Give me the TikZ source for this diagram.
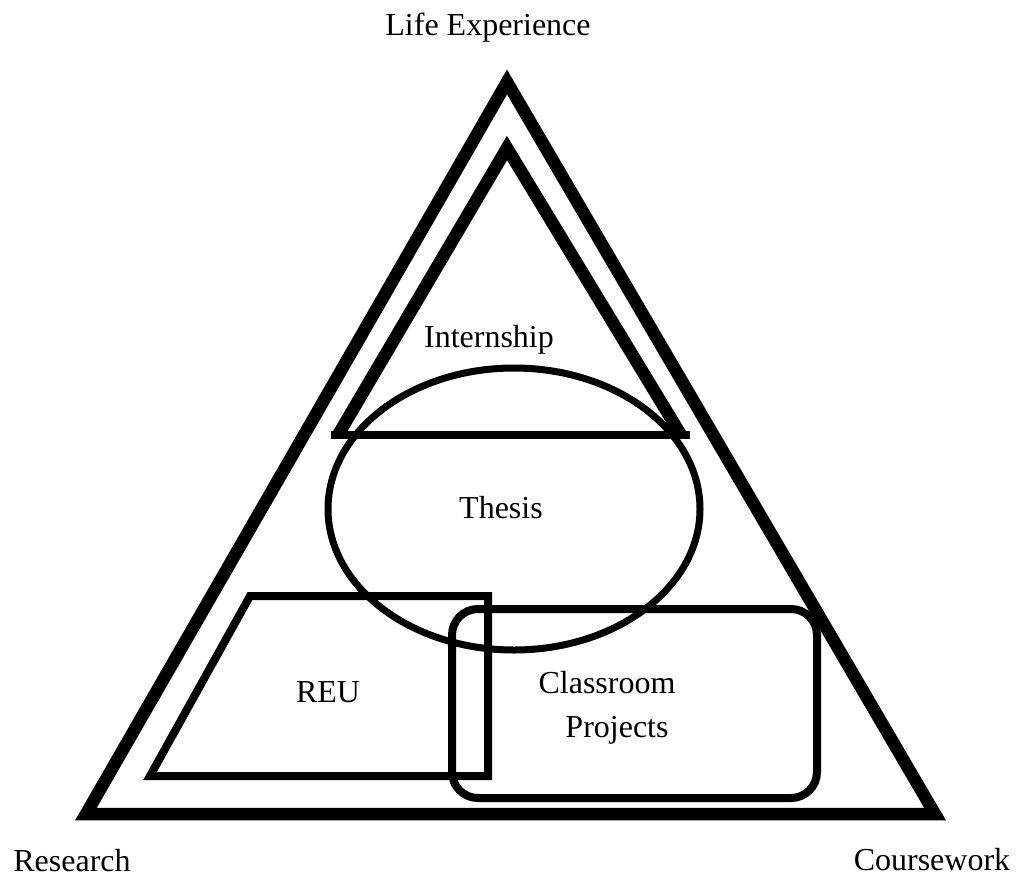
\documentclass[tikz,border=0pt]{standalone}
\usepackage{fontspec}
\setmainfont{Liberation Serif}
\begin{document}
\begin{tikzpicture}[x=1pt,y=-1pt,
  lbl/.style={font=\fontsize{32}{44}\selectfont, inner sep=0pt, anchor=base, align=center},
  heavy/.style={line width=12.5pt, line join=miter},
  medium/.style={line width=8pt, line join=miter},
  thin/.style={line width=7pt}]
\useasboundingbox (0,0) rectangle (1023,876);
% outer triangle
\draw[heavy] (507,82) -- (935,814) -- (86,814) -- cycle;
% inner triangle
\draw[heavy] (338,435) -- (507,148) -- (681,435);
\draw[medium] (331,435) -- (690,435);
% ellipse
\draw[thin] (514,509) ellipse [x radius=186, y radius=141];
% REU parallelogram
\draw[medium] (250,596) -- (488,596) -- (488,776) -- (150,776) -- cycle;
% Classroom projects rounded rectangle
\draw[medium, rounded corners=26pt] (452,609) rectangle (817,798);
% labels
\node[lbl] (life) at (488,35) {Life Experience};
\node[lbl] (intern) at (489,347) {Internship};
\node[lbl] (thesis) at (501,518) {Thesis};
\node[lbl] (reu) at (328,702) {REU};
\node[lbl] (class) at (607,693) {Classroom};
\node[lbl] (proj) at (617,737) {Projects};
\node[lbl] (research) at (72,871) {Research};
\node[lbl] (course) at (932,870) {Coursework};
\end{tikzpicture}
\end{document}
